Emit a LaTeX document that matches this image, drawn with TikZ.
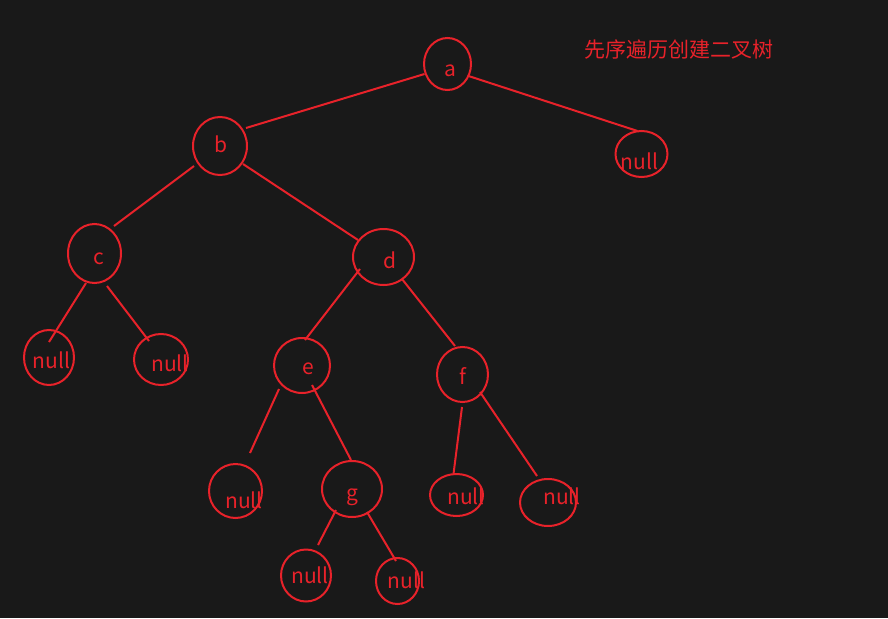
\documentclass[tikz,border=0pt]{standalone}
\usepackage{fontspec}
\setmainfont{Noto Sans CJK SC}
\usetikzlibrary{shapes.geometric,calc}
\definecolor{bg}{HTML}{191919}
\definecolor{pen}{HTML}{E8222A}
\tikzset{
  ov/.style={ellipse,draw=pen,line width=2pt,inner sep=0pt},
  lab/.style={text=pen,font=\fontsize{21}{21}\selectfont,anchor=base,inner sep=0pt},
  edge/.style={draw=pen,line width=2pt}
}
\begin{document}
\begin{tikzpicture}[x=1pt,y=-1pt]
\fill[bg] (0,0) rectangle (888,618);
\useasboundingbox (0,0) rectangle (888,618);
% ellipses
\node[ov,minimum width=47pt,minimum height=52pt] (a) at (447.5,64) {};
\node[ov,minimum width=54pt,minimum height=58pt] (b) at (220,146) {};
\node[ov,minimum width=52pt,minimum height=46pt] (na) at (641.5,154) {};
\node[ov,minimum width=53pt,minimum height=59pt] (c) at (94.5,253.5) {};
\node[ov,minimum width=61pt,minimum height=56pt] (d) at (383.5,257) {};
\node[ov,minimum width=50pt,minimum height=55pt] (nc1) at (49,357.5) {};
\node[ov,minimum width=54pt,minimum height=51pt] (nc2) at (161,359.5) {};
\node[ov,minimum width=56pt,minimum height=55pt] (e) at (302,365.5) {};
\node[ov,minimum width=51pt,minimum height=55pt] (f) at (462.5,374.5) {};
\node[ov,minimum width=53pt,minimum height=54pt] (ne) at (235.5,491) {};
\node[ov,minimum width=60pt,minimum height=56pt] (g) at (352,489) {};
\node[ov,minimum width=53pt,minimum height=42pt] (nf1) at (456.5,495) {};
\node[ov,minimum width=56pt,minimum height=47pt] (nf2) at (548,502.5) {};
\node[ov,minimum width=50pt,minimum height=52pt] (ng1) at (306,575.5) {};
\node[ov,minimum width=43pt,minimum height=46pt] (ng2) at (397.5,581) {};
% labels
\node[lab] (ta) at (450,77) {a};
\node[lab] (tb) at (220.5,152) {b};
\node[lab] (tna) at (639.5,169) {null};
\node[lab] (tc) at (98.5,264) {c};
\node[lab] (td) at (390.5,268) {d};
\node[lab] (tnc1) at (51.5,368) {null};
\node[lab] (tnc2) at (170,371) {null};
\node[lab] (te) at (308.5,374) {e};
\node[lab] (tf) at (462.5,384) {f};
\node[lab] (tne) at (244,508) {null};
\node[lab] (tg) at (352,500) {g};
\node[lab] (tnf1) at (466,504) {null};
\node[lab] (tnf2) at (562,504) {null};
\node[lab] (tng1) at (310,583) {null};
\node[lab] (tng2) at (406.5,588) {null};
\node[lab] (title) at (679,57) {先序遍历创建二叉树};
% connectors
\draw[edge] ($(a)+(-23,10)$) -- ($(b)+(26,-18)$);
\draw[edge] ($(a)+(21,12)$) -- ($(na)+(-4,-23)$);
\draw[edge] ($(b)+(-26,20)$) -- ($(c)+(19.5,-27.5)$);
\draw[edge] ($(b)+(23,18)$) -- ($(d)+(-25.5,-17)$);
\draw[edge] ($(c)+(-8.5,29.5)$) -- ($(nc1)+(0,-15.5)$);
\draw[edge] ($(c)+(12.5,32.5)$) -- ($(nc2)+(-12,-18.5)$);
\draw[edge] ($(d)+(-23.5,12)$) -- ($(e)+(3,-25.5)$);
\draw[edge] ($(d)+(18.5,22)$) -- ($(f)+(-7.5,-28.5)$);
\draw[edge] ($(e)+(-23,23.5)$) -- ($(ne)+(14.5,-38)$);
\draw[edge] ($(e)+(10,19.5)$) -- ($(g)+(-1,-29)$);
\draw[edge] ($(f)+(-0.5,32.5)$) -- ($(nf1)+(-3,-21)$);
\draw[edge] ($(f)+(17.5,17.5)$) -- ($(nf2)+(-11,-26.5)$);
\draw[edge] ($(g)+(-16,21)$) -- ($(ng1)+(12,-30.5)$);
\draw[edge] ($(g)+(15,23)$) -- ($(ng2)+(-1.5,-20)$);
\end{tikzpicture}
\end{document}
